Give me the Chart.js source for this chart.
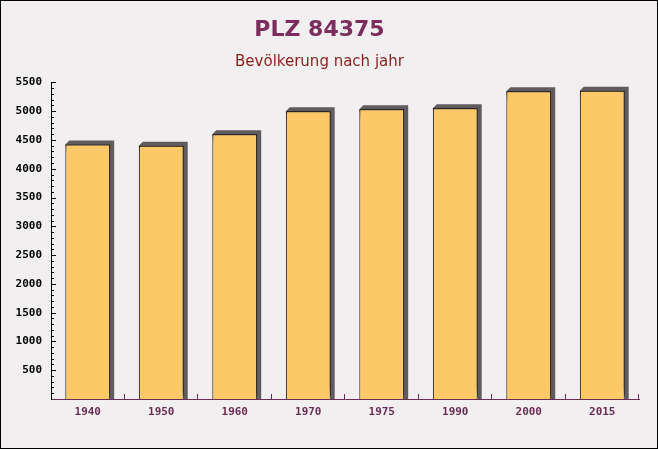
<!DOCTYPE html>
<html>
<head>
<meta charset="utf-8">
<script src="https://cdn.jsdelivr.net/npm/chart.js@4/dist/chart.umd.min.js"></script>
<style>
  html, body { margin: 0; padding: 0; background: #f2eff0; }
  #wrap { width: 658px; height: 449px; }
</style>
</head>
<body>
<div id="wrap"><canvas id="chartBar"></canvas></div>
<script>
const years = ["1940", "1950", "1960", "1970", "1975", "1990", "2000", "2015"];
const population = [4420, 4400, 4600, 5000, 5035, 5050, 5345, 5355];
const yMax = 5500;
const yStep = 500;
const yMinorStep = 100;

const barFill = "rgb(252, 200, 104)";
const shadowColor = "#5f5b5e";
const axisPurple = "#6b2d55";

// background + frame
const frame = {
  id: "frame",
  beforeDraw(chart) {
    const ctx = chart.ctx;
    ctx.save();
    ctx.fillStyle = "#f2eff0";
    ctx.fillRect(0, 0, chart.width, chart.height);
    ctx.restore();
  },
  afterDraw(chart) {
    const ctx = chart.ctx;
    ctx.save();
    ctx.strokeStyle = "#000";
    ctx.lineWidth = 1;
    ctx.strokeRect(0.5, 0.5, chart.width - 1, chart.height - 1);
    ctx.restore();
  },
};

// dark 3d-ish shadow behind each bar
const barShadow = {
  id: "barShadow",
  beforeDatasetsDraw(chart) {
    const ctx = chart.ctx;
    const meta = chart.getDatasetMeta(0);
    ctx.save();
    ctx.fillStyle = shadowColor;
    meta.data.forEach((el) => {
      const { x, y, base, width } = el.getProps(["x", "y", "base", "width"], true);
      const l = x - width / 2;
      const r = x + width / 2;
      ctx.beginPath();
      ctx.moveTo(l, y);
      ctx.lineTo(l + 4, y - 4);
      ctx.lineTo(r + 4, y - 4);
      ctx.lineTo(r + 4, base);
      ctx.lineTo(r, base);
      ctx.closePath();
      ctx.fill();
    });
    ctx.restore();
  },
};

// ticks pointing into the plot
const innerTicks = {
  id: "innerTicks",
  afterDatasetsDraw(chart) {
    const ctx = chart.ctx;
    const ys = chart.scales.y;
    const area = chart.chartArea;
    ctx.save();
    ctx.lineWidth = 1;
    ctx.strokeStyle = "#000";
    for (let v = yMinorStep; v <= yMax; v += yMinorStep) {
      const py = Math.round(ys.getPixelForValue(v)) + 0.5;
      const len = v % yStep === 0 ? 5 : 3;
      ctx.beginPath();
      ctx.moveTo(area.left, py);
      ctx.lineTo(area.left + len, py);
      ctx.stroke();
    }
    ctx.strokeStyle = axisPurple;
    const step = (area.right - area.left) / years.length;
    for (let i = 1; i <= years.length; i++) {
      const px = Math.round(area.left + step * i) - 0.5;
      ctx.beginPath();
      ctx.moveTo(px, area.bottom);
      ctx.lineTo(px, area.bottom - 5);
      ctx.stroke();
    }
    ctx.restore();
  },
};

new Chart(document.getElementById("chartBar").getContext("2d"), {
  type: "bar",
  data: {
    labels: years,
    datasets: [
      {
        label: "Bevölkerung",
        data: population,
        backgroundColor: barFill,
        borderColor: "#000",
        borderWidth: 1,
        categoryPercentage: 1,
        barPercentage: 0.61,
      },
    ],
  },
  options: {
    responsive: true,
    maintainAspectRatio: false,
    animation: false,
    layout: { padding: { left: 0, right: 19, top: 0, bottom: 0 } },
    plugins: {
      legend: { display: false },
      tooltip: { enabled: false },
      title: {
        display: true,
        text: "PLZ 84375",
        color: "#7b2d5e",
        font: { family: "DejaVu Sans", size: 22, weight: "bold" },
        padding: { top: 17, bottom: 10 },
      },
      subtitle: {
        display: true,
        text: "Bevölkerung nach jahr",
        color: "#8b1c1c",
        font: { family: "DejaVu Sans", size: 15 },
        padding: { top: 0, bottom: 11 },
      },
    },
    scales: {
      x: {
        grid: { display: false, drawTicks: false },
        border: { display: true, color: axisPurple, width: 1 },
        ticks: {
          color: axisPurple,
          font: { family: "DejaVu Sans Mono", size: 11, weight: "bold" },
          padding: 7,
        },
        afterFit(scale) {
          scale.height = 50;
        },
      },
      y: {
        min: 0,
        max: yMax,
        grid: { display: false, drawTicks: false },
        border: { display: true, color: "#000", width: 1 },
        ticks: {
          stepSize: yStep,
          color: "#000",
          padding: 9,
          font: { family: "DejaVu Sans Mono", size: 11, weight: "bold" },
          callback: (v) => (v === 0 ? "" : v),
        },
        afterFit(scale) {
          scale.width = 51;
        },
      },
    },
  },
  plugins: [frame, barShadow, innerTicks],
});
</script>
</body>
</html>
